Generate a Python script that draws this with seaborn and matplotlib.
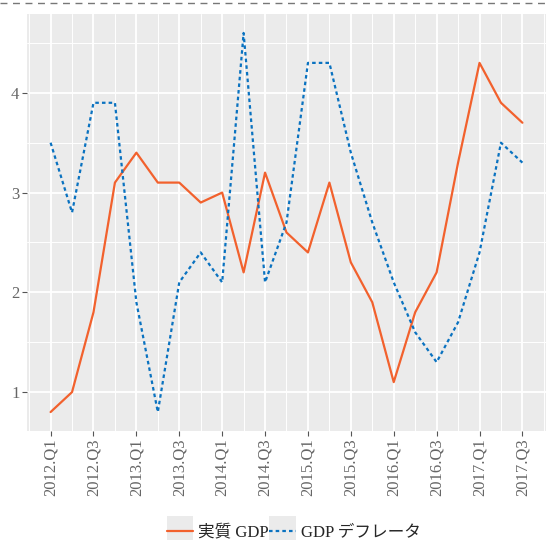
import numpy as np
import pandas as pd
import matplotlib
matplotlib.use("Agg")
import matplotlib.pyplot as plt
import seaborn as sns
from matplotlib.legend_handler import HandlerLine2D
from matplotlib.patches import Rectangle
from matplotlib.lines import Line2D
from matplotlib.ticker import MultipleLocator

# quarterly data 2012.Q1 - 2017.Q3
quarters = [f"{y}.Q{q}" for y in range(2012, 2018) for q in range(1, 5)][:23]
real_gdp = [0.8, 1.0, 1.8, 3.1, 3.4, 3.1, 3.1, 2.9, 3.0, 2.2, 3.2, 2.6,
            2.4, 3.1, 2.3, 1.9, 1.1, 1.8, 2.2, 3.3, 4.3, 3.9, 3.7]
deflator = [3.5, 2.8, 3.9, 3.9, 1.9, 0.8, 2.1, 2.4, 2.1, 4.6, 2.1, 2.7,
            4.3, 4.3, 3.4, 2.7, 2.1, 1.6, 1.3, 1.7, 2.4, 3.5, 3.3]
series_names = ["実質 GDP", "GDP デフレータ"]

df = pd.DataFrame({
    "idx": list(range(len(quarters))) * 2,
    "value": real_gdp + deflator,
    "series": [series_names[0]] * len(quarters) + [series_names[1]] * len(quarters),
})

sns.set_theme(style="darkgrid")
plt.rcParams["font.family"] = ["Liberation Serif", "Noto Sans CJK JP", "DejaVu Sans"]

fig = plt.figure(figsize=(5.46, 5.40), dpi=100)
ax = fig.add_axes([27 / 546, 1 - 431 / 540, 1 - 27 / 546, (431 - 14) / 540])
ax.set_facecolor("#ebebeb")

colors = {series_names[0]: "#f2612d", series_names[1]: "#0a72c0"}
sns.lineplot(data=df, x="idx", y="value", hue="series", style="series",
             palette=colors, dashes={series_names[0]: "", series_names[1]: (1.6, 1.4)},
             linewidth=1.6, ax=ax, legend=False)

n = len(quarters)
span = n - 1
ax.set_xlim(-0.05 * span, span * 1.05)
lo, hi = min(real_gdp + deflator), max(real_gdp + deflator)
pad = (hi - lo) * 0.05
ax.set_ylim(lo - pad, hi + pad)

ax.set_xticks(range(0, n, 2))
ax.set_xticklabels(quarters[::2], rotation=90)
ax.xaxis.set_minor_locator(MultipleLocator(1))
ax.set_yticks([1, 2, 3, 4])
ax.yaxis.set_minor_locator(MultipleLocator(0.5))

ax.grid(which="major", color="white", linewidth=1.3)
ax.grid(which="minor", color="white", linewidth=0.7)
ax.tick_params(which="major", length=3.5, width=0.8, color="#555555",
               labelsize=12, labelcolor="#666666", pad=2)
ax.tick_params(which="minor", length=0)
ax.tick_params(axis="x", bottom=True)
ax.tick_params(axis="y", left=True)
ax.set_xlabel("")
ax.set_ylabel("")
for s in ax.spines.values():
    s.set_visible(False)


class KeyHandler(HandlerLine2D):
    def create_artists(self, legend, orig_handle, xdescent, ydescent,
                       width, height, fontsize, trans):
        arts = super().create_artists(legend, orig_handle, xdescent, ydescent,
                                      width, height, fontsize, trans)
        bg = Rectangle((-xdescent, -ydescent - 6), width, height + 12,
                       facecolor="#ebebeb", edgecolor="none", transform=trans)
        return [bg] + list(arts)


handles = [Line2D([], [], color=colors[series_names[0]], linewidth=1.6),
           Line2D([], [], color=colors[series_names[1]], linewidth=1.6,
                  linestyle=(0, (1.6, 1.4)))]
fig.legend(handles, series_names, loc="center", bbox_to_anchor=(0.538, 0.014),
           ncol=2, frameon=False, fontsize=12, handlelength=1.6,
           handletextpad=0.3, columnspacing=0.0,
           handler_map={Line2D: KeyHandler()})

# dashed rule along the top edge
fig.add_artist(Line2D([0, 1], [1 - 3 / 540, 1 - 3 / 540], transform=fig.transFigure,
                      color="#777777", linewidth=1.0, linestyle=(0, (5, 4))))

fig.savefig("out.png", dpi=100)
